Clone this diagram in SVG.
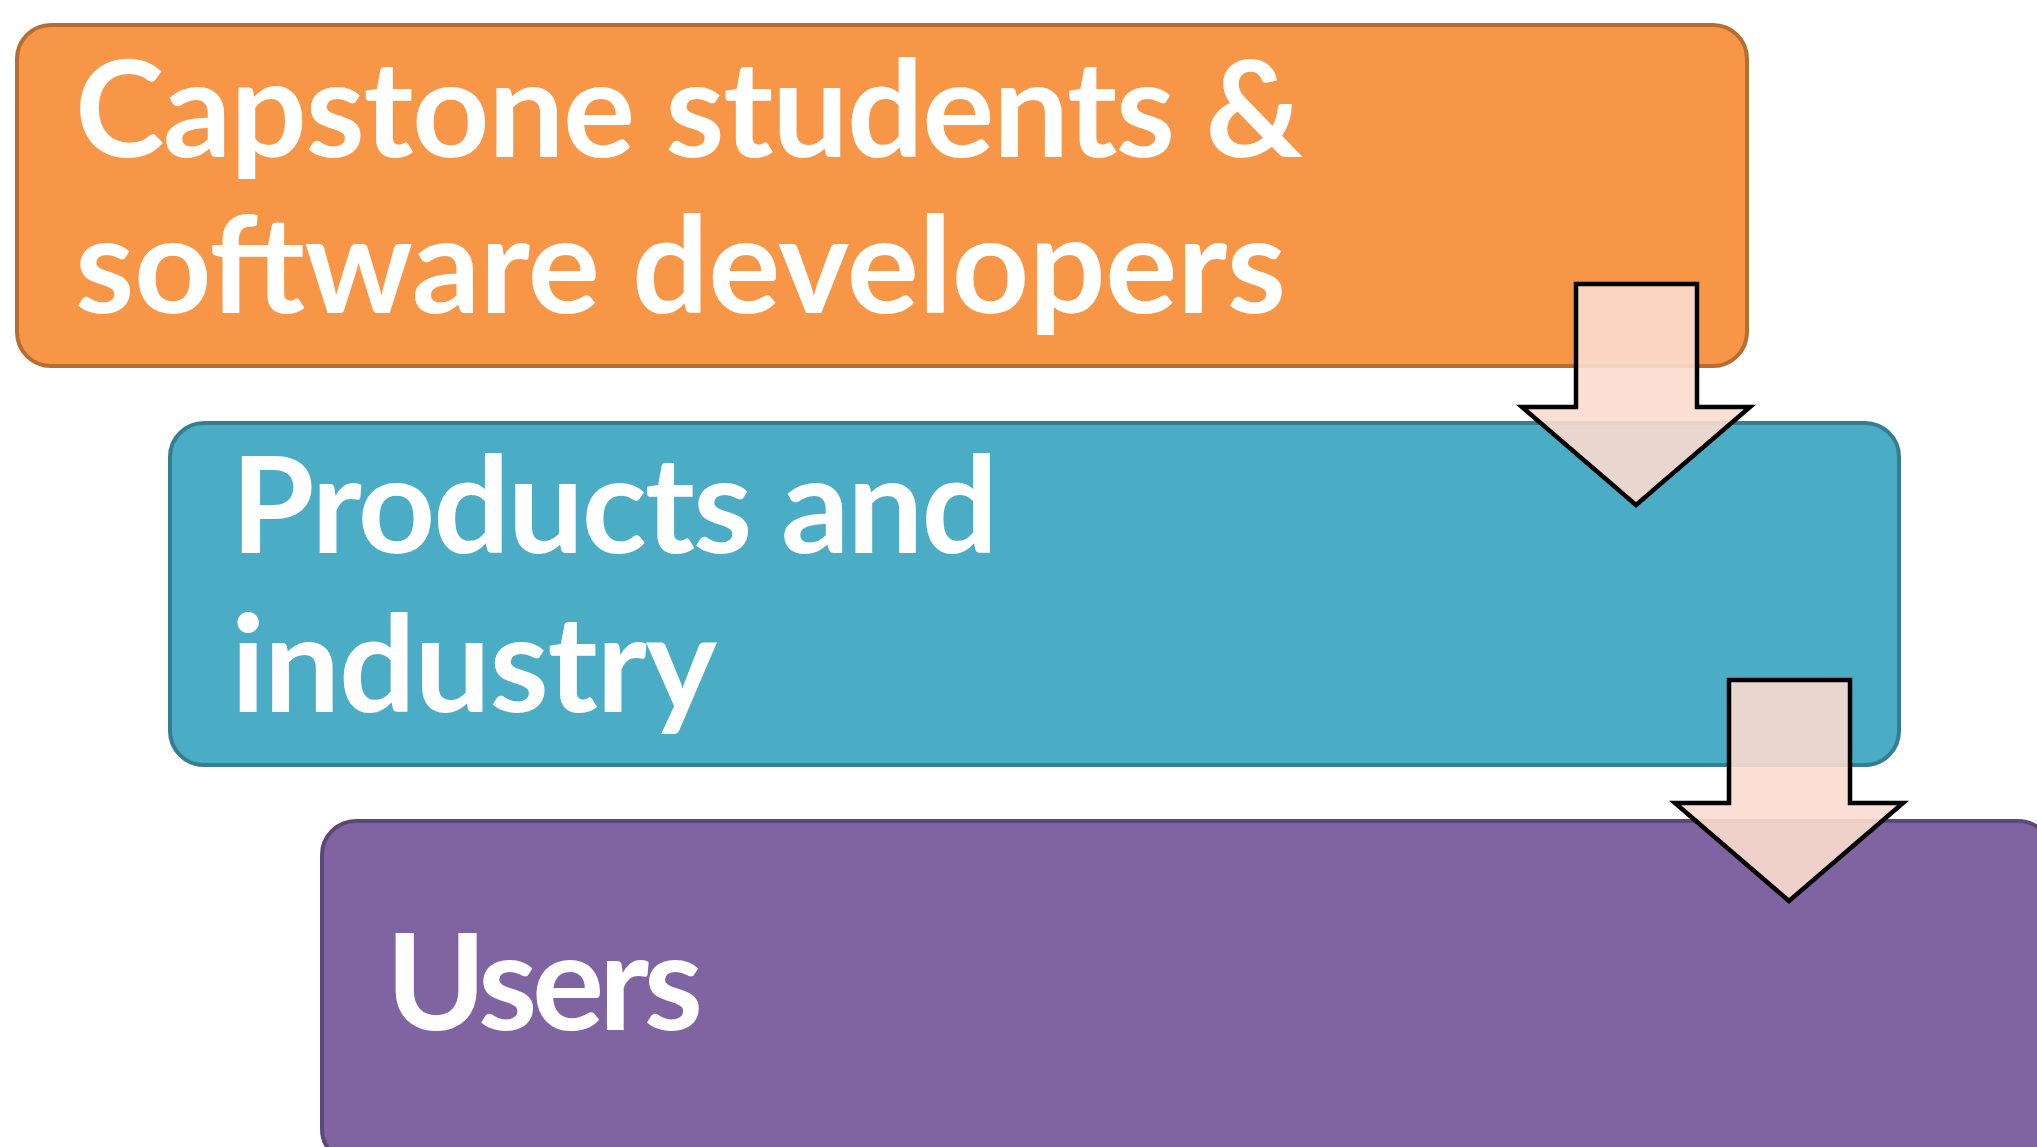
<svg xmlns="http://www.w3.org/2000/svg" width="2037" height="1147" viewBox="0 0 2037 1147">
<style>
.box{stroke-width:4}
.lbl{font-family:Lato,"Open Sans","Liberation Sans",sans-serif;font-weight:700;font-size:135px;fill:#ffffff}
.arrow{fill:#fbdccf;fill-opacity:0.9;stroke:#000000;stroke-width:4.5;stroke-linejoin:miter}
</style>
<rect width="2037" height="1147" fill="#ffffff"/>
<g id="node-capstone">
<rect class="box" x="17" y="25" width="1730" height="341" rx="34" fill="#f79646" stroke="#b66d31"/>
<text class="lbl" x="75" y="157" textLength="1228">Capstone students &amp;</text>
<text class="lbl" x="75" y="313" textLength="1211">software developers</text>
</g>
<g id="node-products">
<rect class="box" x="170" y="423" width="1729" height="342" rx="34" fill="#4bacc6" stroke="#357d91"/>
<text class="lbl" x="231" y="553" textLength="767">Products and</text>
<text class="lbl" x="231" y="712" textLength="486">industry</text>
</g>
<g id="node-users">
<rect class="box" x="322" y="821" width="1730" height="342" rx="34" fill="#8064a2" stroke="#5c4776"/>
<text class="lbl" x="386" y="1030" textLength="317">Users</text>
</g>
<g id="connectors">
<path class="arrow" d="M1576,284 L1697,284 L1697,407 L1750,407 L1636,505 L1522,407 L1576,407 Z"/>
<path class="arrow" d="M1729,680 L1850,680 L1850,803 L1903,803 L1789,901 L1675,803 L1729,803 Z"/>
</g>
</svg>
